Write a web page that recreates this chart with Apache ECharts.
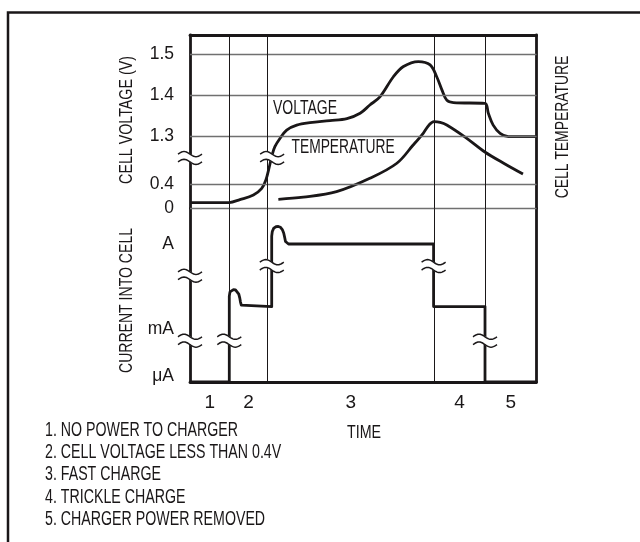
<!DOCTYPE html>
<html>
<head>
<meta charset="utf-8">
<script src="https://cdn.jsdelivr.net/npm/echarts@6/dist/echarts.min.js"></script>
<style>
html,body{margin:0;padding:0;background:#fff;}
#c{width:640px;height:542px;}
</style>
</head>
<body>
<div id="c"></div>
<script>
// ---------- data ----------
// time is schematic (0..100 across the plot)
const regionBounds = [11.34, 22.4, 70.5, 85.14];
const regionCenters = [5.7, 16.9, 46.4, 77.8, 92.6];
const regionLabels = ['1', '2', '3', '4', '5'];

const voltTicks = [1.5, 1.4, 1.3, 0.4, 0];
const voltTickLabels = ['1.5', '1.4', '1.3', '0.4', '0'];
const voltGrid = [1.5, 1.4, 1.3, 0.4, 0];

// current levels as log10(amps)
const currentTicks = [0, -3, -6];
const currentTickLabels = ['A', 'mA', 'μA'];

const voltageT = [0, 11.3, 14.4, 18.3, 20.7, 21.9, 22.9, 23.7, 24.5, 26.0, 27.9, 30.8, 34.6, 40.4, 45.3, 49.1, 51.9, 54.8, 58.7, 61.6, 65.9, 69.3, 71.2, 72.7, 74.1, 76.0, 85.1, 86.1, 87.5, 89.5, 91.9, 100];
const voltageV = [0.092, 0.095, 0.143, 0.219, 0.329, 0.476, 0.728, 0.951, 1.108, 1.268, 1.316, 1.328, 1.334, 1.339, 1.344, 1.357, 1.377, 1.397, 1.446, 1.471, 1.483, 1.475, 1.446, 1.414, 1.389, 1.383, 1.381, 1.357, 1.328, 1.308, 1.300, 1.300];

// relative cell temperature (unlabelled axis)
const tempT = [25.5, 32.7, 42.3, 51.9, 59.7, 64.4, 67.3, 69.0, 70.4, 72.2, 74.1, 79.4, 85.1, 90.9, 96.1];
const tempRel = [5.2, 6.4, 9.6, 17.3, 26.0, 36.5, 43.3, 48.1, 50.0, 49.6, 48.1, 41.1, 32.5, 25.6, 19.8];

const currentT = [0, 11.34, 11.34, 11.54, 11.98, 12.55, 13.13, 13.65, 14.08, 14.37, 14.57, 14.81, 15.15, 23.58, 23.58, 23.75, 24.18, 24.82, 25.48, 26.12, 26.64, 27.04, 27.33, 27.56, 27.91, 28.43, 70.3, 70.3, 85.14, 85.14, 100];
const currentLog = [-6, -6, -1.84, -1.69, -1.63, -1.61, -1.62, -1.66, -1.77, -1.91, -2.05, -2.16, -2.21, -2.21, 0.28, 0.44, 0.56, 0.61, 0.62, 0.59, 0.51, 0.39, 0.23, 0.09, 0.02, 0, 0, -2.21, -2.21, -6, -6];

// axis-break marks
const voltBreaksT = [0, 23.7];
const voltBreaksV = [0.894, 0.894];
const currBreaksT = [0, 0, 23.6, 11.34, 70.3, 85.14];
const currBreaksLog = [-1.12, -3.66, -0.78, -3.66, -0.78, -3.66];

const notes = ['1. NO POWER TO CHARGER', '2. CELL VOLTAGE LESS THAN 0.4V', '3. FAST CHARGE', '4. TRICKLE CHARGE', '5. CHARGER POWER REMOVED'];

// ---------- broken-axis scales ----------
const vKnots = [0, 0.4, 1.3, 1.5];
const vUnits = [0, 14.02, 41.37, 88.69];
function mapV(v) {
  for (let i = 1; i < vKnots.length; i++) {
    if (v <= vKnots[i] || i === vKnots.length - 1) {
      const a = vKnots[i - 1], b = vKnots[i];
      return vUnits[i - 1] + (v - a) / (b - a) * (vUnits[i] - vUnits[i - 1]);
    }
  }
}
function mapI(l) { return l <= -3 ? (l + 6) * 10.17 : 30.51 + (l + 3) * 16.31; }
function nearestLabel(val, ticks, labels, mapper) {
  let best = 0, bd = Infinity;
  ticks.forEach((t, i) => { const d = Math.abs(mapper(t) - val); if (d < bd) { bd = d; best = i; } });
  return labels[best];
}

const INK = '#1a1718';
const TICKFONT = '"Liberation Sans Narrow", "Arial Narrow", "Liberation Sans", Arial, sans-serif';
const FONT = '"Liberation Sans", Arial, sans-serif';
const axisLine = { show: true, onZero: false, lineStyle: { color: INK, width: 2.8 } };

function renderBreak(params, api) {
  const p = api.coord([api.value(0), api.value(1)]);
  const W = 24, a = 2.6, d = 3.9, n = 20;
  const top = [], bot = [];
  for (let i = 0; i <= n; i++) {
    const s = i / n;
    const x = p[0] - W / 2 + s * W;
    const y = -a * Math.sin(2 * Math.PI * s);
    top.push([x, p[1] - d + y]);
    bot.push([x, p[1] + d + y]);
  }
  return {
    type: 'group',
    children: [
      { type: 'polygon', shape: { points: top.concat(bot.slice().reverse()) }, style: { fill: '#fff', stroke: '#fff', lineWidth: 1 } },
      { type: 'polyline', shape: { points: top }, style: { stroke: INK, lineWidth: 1.5, fill: null } },
      { type: 'polyline', shape: { points: bot }, style: { stroke: INK, lineWidth: 1.5, fill: null } }
    ]
  };
}

function condensedText(text, x, y, size, sx, rot, align) {
  return {
    type: 'text', x: x, y: y, scaleX: sx, rotation: rot || 0, z: 20,
    style: { text: text, font: size + 'px ' + FONT, fill: INK, align: align || 'left', verticalAlign: 'middle' }
  };
}

const gridLineData = voltGrid.map(v => ({ yAxis: mapV(v), lineStyle: { color: '#707070', width: 1.3, type: 'solid' } }));
const vLineData = regionBounds.map(t => ({ xAxis: t, lineStyle: { color: INK, width: 1, type: 'solid' } }));

const chart = echarts.init(document.getElementById('c'));
chart.setOption({
  animation: false,
  backgroundColor: '#fff',
  grid: [
    { left: 190, right: 103.5, top: 35, bottom: 333.7 },
    { left: 190, right: 103.5, top: 208.3, bottom: 160 }
  ],
  xAxis: [
    { gridIndex: 0, type: 'value', min: 0, max: 100, position: 'top', axisLine: axisLine, axisTick: { show: false }, axisLabel: { show: false }, splitLine: { show: false } },
    { gridIndex: 1, type: 'value', min: 0, max: 100, position: 'bottom', axisLine: axisLine, axisTick: { show: false }, splitLine: { show: false },
      axisLabel: { customValues: regionCenters, margin: 11, color: INK, fontSize: 19, fontFamily: TICKFONT,
        formatter: v => nearestLabel(v, regionCenters, regionLabels, x => x) } }
  ],
  yAxis: [
    { gridIndex: 0, type: 'value', min: 0, max: 100, position: 'left', axisLine: axisLine, axisTick: { show: false }, splitLine: { show: false },
      axisLabel: { customValues: voltTicks.map(mapV), margin: 16, color: INK, fontSize: 17.5, fontFamily: TICKFONT,
        formatter: v => nearestLabel(v, voltTicks, voltTickLabels, mapV) } },
    { gridIndex: 0, type: 'value', min: 0, max: 100, position: 'right', axisLine: axisLine, axisTick: { show: false }, axisLabel: { show: false }, splitLine: { show: false } },
    { gridIndex: 1, type: 'value', min: 0, max: 100, position: 'left', axisLine: axisLine, axisTick: { show: false }, splitLine: { show: false },
      axisLabel: { customValues: currentTicks.map(mapI), margin: 16, color: INK, fontSize: 17.5, fontFamily: TICKFONT,
        formatter: v => { const s = nearestLabel(v, currentTicks, currentTickLabels, mapI); return v < 1 ? '{u|' + s + '}' : s; },
        rich: { u: { fontSize: 17.5, fontFamily: TICKFONT, color: INK, padding: [0, 0, 12, 0] } } } },
    { gridIndex: 1, type: 'value', min: 0, max: 100, position: 'right', axisLine: axisLine, axisTick: { show: false }, axisLabel: { show: false }, splitLine: { show: false } }
  ],
  series: [
    { type: 'line', xAxisIndex: 0, yAxisIndex: 0, data: [], z: 1, silent: true,
      markLine: { silent: true, symbol: ['none', 'none'], label: { show: false }, emphasis: { disabled: true }, data: gridLineData.concat(vLineData) } },
    { type: 'line', xAxisIndex: 1, yAxisIndex: 2, data: [], z: 1, silent: true,
      markLine: { silent: true, symbol: ['none', 'none'], label: { show: false }, emphasis: { disabled: true }, data: vLineData } },
    { name: 'Voltage', type: 'line', xAxisIndex: 0, yAxisIndex: 0, z: 3, smooth: 0.35, symbol: 'none',
      lineStyle: { color: INK, width: 2.8, join: 'round' },
      data: voltageT.map((t, i) => [t, mapV(voltageV[i])]) },
    { name: 'Temperature', type: 'line', xAxisIndex: 0, yAxisIndex: 1, z: 3, smooth: 0.35, symbol: 'none',
      lineStyle: { color: INK, width: 2.8, join: 'round' },
      data: tempT.map((t, i) => [t, tempRel[i]]) },
    { name: 'Current', type: 'line', xAxisIndex: 1, yAxisIndex: 2, z: 3, smooth: false, symbol: 'none',
      lineStyle: { color: INK, width: 2.8, join: 'round' },
      data: currentT.map((t, i) => [t, mapI(currentLog[i])]) },
    { type: 'custom', xAxisIndex: 0, yAxisIndex: 0, z: 10, clip: false, silent: true, renderItem: renderBreak,
      data: voltBreaksT.map((t, i) => [t, mapV(voltBreaksV[i])]) },
    { type: 'custom', xAxisIndex: 1, yAxisIndex: 2, z: 10, clip: false, silent: true, renderItem: renderBreak,
      data: currBreaksT.map((t, i) => [t, mapI(currBreaksLog[i])]) }
  ],
  graphic: [
    { type: 'rect', z: 0, shape: { x: 8, y: 12.5, width: 700, height: 600 }, style: { fill: 'none', stroke: INK, lineWidth: 2.5 } },
    condensedText('VOLTAGE', 273, 108.5, 20, 0.70),
    condensedText('TEMPERATURE', 291.5, 147.5, 20, 0.69),
    condensedText('CELL VOLTAGE (V)', 126.5, 120, 19, 0.75, Math.PI / 2, 'center'),
    condensedText('CURRENT INTO CELL', 126.5, 300.5, 19, 0.74, Math.PI / 2, 'center'),
    condensedText('CELL TEMPERATURE', 563, 127, 19, 0.73, Math.PI / 2, 'center'),
    condensedText('TIME', 364, 433, 19, 0.75, 0, 'center')
  ].concat(notes.map((s, i) => condensedText(s, 45, 430 + i * 22.4, 20, 0.71)))
});
</script>
</body>
</html>
